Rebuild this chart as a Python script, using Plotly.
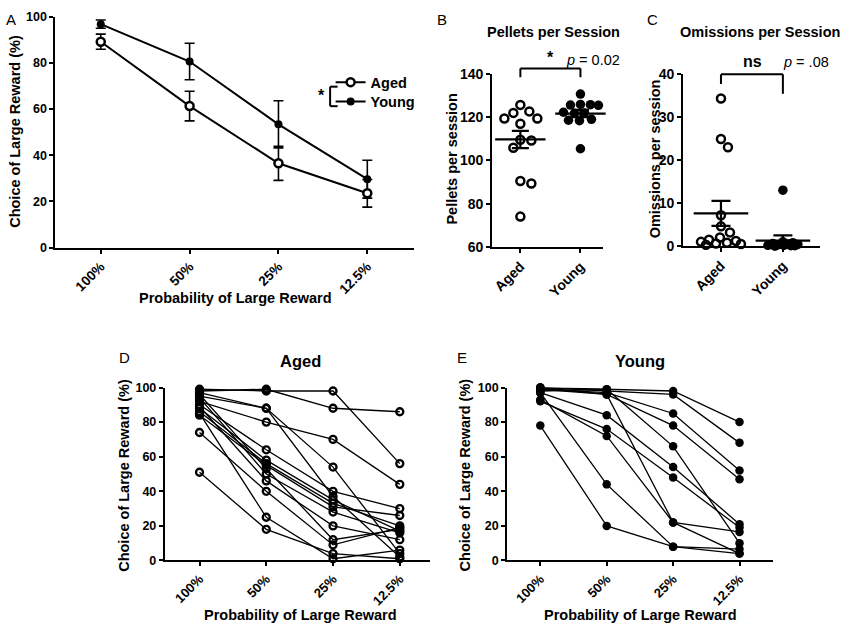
import numpy as np
import plotly.graph_objects as go

W, H = 850, 637
FONT = "Liberation Sans, Arial, Helvetica, sans-serif"

# ---------------- data ----------------
prob_labels = ["100%", "50%", "25%", "12.5%"]
group_labels = ["Aged", "Young"]

# Panel A: group means +/- SEM
aged_mean = [89.2, 61.3, 36.5, 23.5]
aged_sem = [3.3, 6.4, 7.4, 6.0]
young_mean = [96.8, 80.6, 53.4, 29.6]
young_sem = [1.8, 7.9, 10.2, 8.2]

# Panel B: pellets per session
pellets_aged = [122.0, 119.4, 125.7, 117.0, 122.7, 119.4, 109.2, 109.6, 105.9, 90.5, 89.3, 74.0]
pellets_young = [130.7, 125.8, 125.5, 125.6, 125.9, 122.3, 122.0, 121.8, 119.0, 118.6, 118.4, 105.4]
pellets_mean = [109.7, 121.7]
pellets_sem = [4.0, 1.7]

# Panel C: omissions per session
omissions_aged = [34.3, 24.9, 23.0, 7.2, 4.6, 3.2, 2.0, 1.5, 1.2, 1.0, 0.8, 0.6, 0.5, 0.3]
omissions_young = [13.0, 1.0, 0.8, 0.6, 0.5, 0.4, 0.3, 0.2, 0.2, 0.1, 0.1, 0.0]
omissions_mean = [7.6, 1.3]
omissions_sem = [2.9, 1.2]

# Panel D: individual aged rats (100%, 50%, 25%, 12.5%)
aged_subjects = [
    [99, 98, 98, 56],
    [98, 99, 88, 86],
    [97, 88, 54, 4],
    [92, 80, 70, 44],
    [95, 88, 37, 2],
    [90, 64, 40, 30],
    [88, 58, 35, 17],
    [86, 56, 33, 20],
    [84, 55, 31, 26],
    [96, 53, 12, 18],
    [94, 50, 28, 16],
    [89, 46, 20, 12],
    [74, 40, 9, 19],
    [85, 25, 1, 6],
    [51, 18, 4, 1],
]

# Panel E: individual young rats
young_subjects = [
    [100, 99, 98, 80],
    [100, 98, 96, 68],
    [99, 97, 85, 52],
    [100, 96, 78, 47],
    [98, 99, 66, 10],
    [99, 96, 22, 16.5],
    [97, 84, 54, 21],
    [92, 76, 48, 19],
    [93, 72, 22, 4],
    [97, 44, 8, 6.6],
    [78, 20, 8, 4],
]

# ---------------- layout geometry (pixels) ----------------
panels = {
    "A": dict(x=(54.5, 413), y=(9, 245.7), xr=(-0.51, 3.52), yr=(0, 100)),
    "B": dict(x=(491.7, 603), y=(67.7, 245), xr=(-0.47, 1.38), yr=(60, 140)),
    "C": dict(x=(683, 820), y=(67.7, 244.3), xr=(-0.61, 1.6), yr=(0, 40)),
    "D": dict(x=(164, 430), y=(389.3, 566.7), xr=(-0.52, 3.46), yr=(0, 100)),
    "E": dict(x=(506.7, 773.3), y=(389.3, 566.7), xr=(-0.5, 3.51), yr=(0, 100)),
}
axis_ids = {"A": "", "B": "2", "C": "3", "D": "4", "E": "5"}


def dom_x(p):
    return [p["x"][0] / W, p["x"][1] / W]


def dom_y(p):
    return [1 - p["y"][1] / H, 1 - p["y"][0] / H]


def data_to_paper_x(p, xv):
    x0, x1 = p["x"]
    r0, r1 = p["xr"]
    return (x0 + (xv - r0) / (r1 - r0) * (x1 - x0)) / W


def swarm(values, p, diam_px, max_half_px):
    """Deterministic beeswarm offsets (data units) so markers do not overlap."""
    xpx = (p["x"][1] - p["x"][0]) / (p["xr"][1] - p["xr"][0])
    ypx = (p["y"][1] - p["y"][0]) / (p["yr"][1] - p["yr"][0])
    order = np.argsort(-np.asarray(values), kind="stable")
    placed = []
    offs = [0.0] * len(values)
    cands = [0.0]
    for k in range(1, int(max_half_px) + 1):
        cands += [k, -k]
    for i in order:
        y = values[i] * ypx
        best, best_d, best_alt = None, -1, 0.0
        for c in cands:
            d = min([np.hypot(c - a, y - b) for a, b in placed] or [1e9])
            if d >= diam_px:
                best = c
                break
            if d > best_d:
                best_d, best_alt = d, c
        if best is None:
            best = best_alt
        placed.append((best, y))
        offs[i] = best / xpx
    return offs


fig = go.Figure()
BLACK = "black"

# ---------------- Panel A ----------------
fig.add_trace(go.Scatter(
    x=list(range(4)), y=young_mean, mode="lines+markers", name="Young",
    line=dict(color=BLACK, width=2),
    marker=dict(symbol="circle", size=8, color=BLACK),
    error_y=dict(type="data", array=young_sem, color=BLACK, thickness=1.6, width=5),
    xaxis="x", yaxis="y", cliponaxis=False, legend="legend2",
))
fig.add_trace(go.Scatter(
    x=list(range(4)), y=aged_mean, mode="lines+markers", name="Aged",
    line=dict(color=BLACK, width=2),
    marker=dict(symbol="circle", size=8, color="white", line=dict(color=BLACK, width=2.5)),
    error_y=dict(type="data", array=aged_sem, color=BLACK, thickness=1.6, width=5),
    xaxis="x", yaxis="y", cliponaxis=False, legend="legend",
))

# ---------------- Panel B ----------------
pB = panels["B"]
for gi, (vals, filled, diam, half) in enumerate([(pellets_aged, False, 10.5, 22),
                                                 (pellets_young, True, 9.5, 18)]):
    offs = swarm(vals, pB, diam, half)
    if filled:
        mk = dict(symbol="circle", size=9.5, color=BLACK)
    else:
        mk = dict(symbol="circle-open", size=8, color=BLACK, line=dict(width=2.5))
    fig.add_trace(go.Scatter(
        x=[gi + o for o in offs], y=vals, mode="markers", showlegend=False,
        marker=mk, xaxis="x2", yaxis="y2", cliponaxis=False,
    ))
fig.add_trace(go.Scatter(
    x=[0, 1], y=pellets_mean, mode="markers", showlegend=False,
    marker=dict(symbol="line-ew", size=36, line=dict(color=BLACK, width=2.2)),
    error_y=dict(type="data", array=pellets_sem, color=BLACK, thickness=2.2, width=8.5),
    xaxis="x2", yaxis="y2", cliponaxis=False,
))

# ---------------- Panel C ----------------
pC = panels["C"]
for gi, (vals, filled, diam, half) in enumerate([(omissions_aged, False, 10.5, 20),
                                                 (omissions_young, True, 9.5, 15)]):
    offs = swarm(vals, pC, diam, half)
    if filled:
        mk = dict(symbol="circle", size=9.5, color=BLACK)
    else:
        mk = dict(symbol="circle-open", size=8, color=BLACK, line=dict(width=2.5))
    fig.add_trace(go.Scatter(
        x=[gi + o for o in offs], y=vals, mode="markers", showlegend=False,
        marker=mk, xaxis="x3", yaxis="y3", cliponaxis=False,
    ))
fig.add_trace(go.Scatter(
    x=[0, 1], y=omissions_mean, mode="markers", showlegend=False,
    marker=dict(symbol="line-ew", size=39, line=dict(color=BLACK, width=2.2)),
    error_y=dict(type="data", array=omissions_sem, color=BLACK, thickness=2.2, width=9.5),
    xaxis="x3", yaxis="y3", cliponaxis=False,
))

# ---------------- Panels D & E ----------------
for subj in aged_subjects:
    fig.add_trace(go.Scatter(
        x=list(range(4)), y=subj, mode="lines+markers", showlegend=False,
        line=dict(color=BLACK, width=1.3),
        marker=dict(symbol="circle-open", size=7, color=BLACK, line=dict(width=2.3)),
        xaxis="x4", yaxis="y4", cliponaxis=False,
    ))
for subj in young_subjects:
    fig.add_trace(go.Scatter(
        x=list(range(4)), y=subj, mode="lines+markers", showlegend=False,
        line=dict(color=BLACK, width=1.3),
        marker=dict(symbol="circle", size=8.5, color=BLACK),
        xaxis="x5", yaxis="y5", cliponaxis=False,
    ))

# ---------------- axes ----------------
def tf(size):
    return dict(family=FONT, size=size, color=BLACK, weight="bold")


common = dict(showline=True, linewidth=2, linecolor=BLACK, ticks="outside",
              ticklen=4, tickwidth=2, tickcolor=BLACK, showgrid=False,
              zeroline=False, fixedrange=True)
layout_axes = {}
for key, p in panels.items():
    sid = axis_ids[key]
    xa = dict(common, domain=dom_x(p), range=list(p["xr"]), anchor="y" + sid, tickangle=-45)
    ya = dict(common, domain=dom_y(p), range=list(p["yr"]), anchor="x" + sid)
    if key in ("B", "C"):
        xa.update(tickvals=[0, 1], ticktext=group_labels, tickfont=tf(14))
        ya.update(tickfont=tf(14))
    else:
        xa.update(tickvals=[0, 1, 2, 3], ticktext=prob_labels,
                  tickfont=tf(13.5 if key == "A" else 13))
        ya.update(tickfont=tf(12.5))
    if key == "B":
        ya.update(tickvals=[60, 80, 100, 120, 140])
    elif key == "C":
        ya.update(tickvals=[0, 10, 20, 30, 40])
    else:
        ya.update(tickvals=[0, 20, 40, 60, 80, 100])
    layout_axes["xaxis" + sid] = xa
    layout_axes["yaxis" + sid] = ya

# ---------------- annotations ----------------
ann = []


def text(x, y, s, size=14.5, bold=True, angle=0, xanchor="center"):
    ann.append(dict(x=x / W, y=1 - y / H, xref="paper", yref="paper", text=s,
                    showarrow=False, xanchor=xanchor, yanchor="middle", textangle=angle,
                    font=dict(family=FONT, size=size, color=BLACK,
                              weight="bold" if bold else "normal")))


for letter, (lx, ly) in {"A": (10, 12), "B": (442, 12), "C": (652, 12),
                         "D": (124, 359), "E": (462, 359)}.items():
    text(lx, ly, letter, size=15, bold=False)

text(553, 25, "Pellets per Session")
text(760, 25, "Omissions per Session")
text(300, 362, "Aged", size=16.5)
text(640, 362, "Young", size=16.5)

yt = "Choice of Large Reward (%)"
xt = "Probability of Large Reward"
text(14, 126, yt, angle=-90)
text(235, 297, xt)
text(123, 479, yt, angle=-90)
text(300, 623, xt)
text(465, 479, yt, angle=-90)
text(640, 623, xt)
text(452, 155, "Pellets per session", angle=-90)
text(655, 155, "Omissions per session", angle=-90)

text(550, 51, "*", size=16)
text(593, 53, "<i>p</i> = 0.02", bold=False)
text(752, 55, "ns", size=16)
text(806, 55, "<i>p</i> = .08", bold=False)
text(321, 90, "*", size=16)

# ---------------- brackets ----------------
shapes = []


def seg(x0, y0, x1, y1, w=2):
    shapes.append(dict(type="line", xref="paper", yref="paper", x0=x0, y0=y0, x1=x1, y1=y1,
                       line=dict(color=BLACK, width=w)))


bx0, bx1 = data_to_paper_x(pB, 0), data_to_paper_x(pB, 1)
seg(bx0, 1 - 62 / H, bx1, 1 - 62 / H)
seg(bx0, 1 - 62 / H, bx0, 1 - 71 / H)
seg(bx1, 1 - 62 / H, bx1, 1 - 71 / H)
cx0, cx1 = data_to_paper_x(pC, 0), data_to_paper_x(pC, 1)
seg(cx0, 1 - 68 / H, cx1, 1 - 68 / H)
seg(cx0, 1 - 68 / H, cx0, 1 - 78 / H)
seg(cx1, 1 - 68 / H, cx1, 1 - 88 / H)
seg(329.5 / W, 1 - 80.7 / H, 329.5 / W, 1 - 100.7 / H)
seg(329.5 / W, 1 - 80.7 / H, 337 / W, 1 - 80.7 / H)
seg(329.5 / W, 1 - 100.7 / H, 337 / W, 1 - 100.7 / H)

legend_style = dict(xanchor="left", yanchor="top", bgcolor="rgba(0,0,0,0)", borderwidth=0,
                    font=dict(family=FONT, size=14.5, color=BLACK, weight="bold"))

fig.update_layout(
    width=W, height=H, margin=dict(l=0, r=0, t=0, b=0),
    paper_bgcolor="white", plot_bgcolor="white",
    font=dict(family=FONT, color=BLACK),
    showlegend=True,
    legend=dict(legend_style, x=330 / W, y=1 - 59.7 / H),
    legend2=dict(legend_style, x=330 / W, y=1 - 79.7 / H),
    annotations=ann, shapes=shapes,
    **layout_axes,
)

post = (
    "var s=document.documentElement.style;s.margin='0';s.padding='0';s.overflow='hidden';"
    "var b=document.body.style;b.margin='0';b.padding='0';b.overflow='hidden';"
    "var d=document.getElementById('{plot_id}');"
    "d.style.position='fixed';d.style.left='0px';d.style.top='0px';"
)
fig.write_html("out.html", config={"displayModeBar": False}, post_script=post)
